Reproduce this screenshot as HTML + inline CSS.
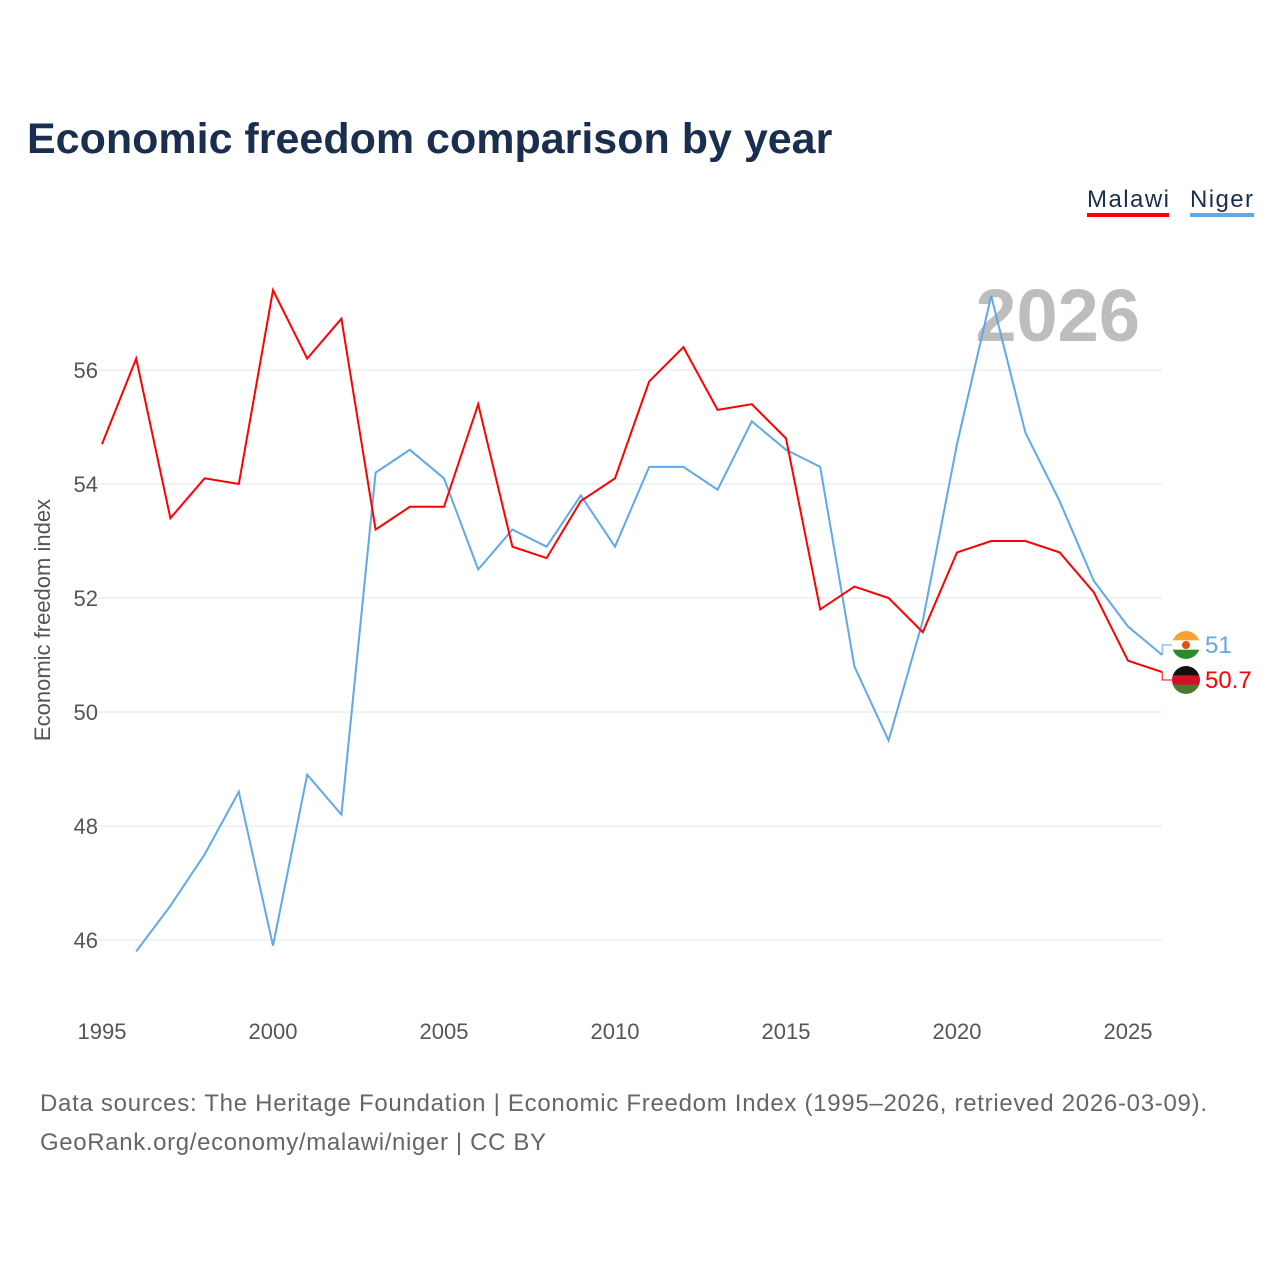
<!DOCTYPE html>
<html><head><meta charset="utf-8"><style>
body{margin:0;background:#fff;font-family:"Liberation Sans",sans-serif;}
svg text{font-family:"Liberation Sans",sans-serif;}
</style></head><body>
<svg width="1280" height="1280" viewBox="0 0 1280 1280">
<text x="27" y="153" font-size="43" font-weight="bold" fill="#1a2e4f">Economic freedom comparison by year</text>
<g><text x="1087" y="207" font-size="24" fill="#1a2e4f" textLength="82">Malawi</text><rect x="1087" y="213" width="82" height="4" fill="#ff0000"/></g>
<g><text x="1190" y="207" font-size="24" fill="#1a2e4f" textLength="63">Niger</text><rect x="1190" y="213" width="64" height="4" fill="#5ea9ea"/></g>
<text x="1140" y="341" font-size="74" font-weight="bold" fill="#bdbdbd" text-anchor="end">2026</text>
<g id="grid"></g><g id="yt"></g><g id="xt"></g><g id="lines"></g>
<text transform="translate(50,620) rotate(-90)" font-size="22" fill="#555" text-anchor="middle">Economic freedom index</text>
<text x="40" y="1111" font-size="24" fill="#666" textLength="1167">Data sources: The Heritage Foundation | Economic Freedom Index (1995–2026, retrieved 2026-03-09).</text>
<text x="40" y="1150" font-size="24" fill="#666" textLength="506">GeoRank.org/economy/malawi/niger | CC BY</text>
</svg>
<script>
const years=[];for(let y=1995;y<=2026;y++)years.push(y);
const malawi=[54.7,56.2,53.4,54.1,54.0,57.4,56.2,56.9,53.2,53.6,53.6,55.4,52.9,52.7,53.7,54.1,55.8,56.4,55.3,55.4,54.8,51.8,52.2,52.0,51.4,52.8,53.0,53.0,52.8,52.1,50.9,50.7];
const niger=[null,45.8,46.6,47.5,48.6,45.9,48.9,48.2,54.2,54.6,54.1,52.5,53.2,52.9,53.8,52.9,54.3,54.3,53.9,55.1,54.6,54.3,50.8,49.5,51.6,54.7,57.3,54.9,53.7,52.3,51.5,51.0];
const yTicks=[46,48,50,52,54,56];
const xTicks=[1995,2000,2005,2010,2015,2020,2025];
const NS='http://www.w3.org/2000/svg';
const X=y=>102+(y-1995)*34.2, Y=v=>940-(v-46)*57;
function mk(t,a,p){const e=document.createElementNS(NS,t);for(const k in a)e.setAttribute(k,a[k]);p.appendChild(e);return e;}
const g=document.getElementById('grid'),yt=document.getElementById('yt'),xt=document.getElementById('xt'),L=document.getElementById('lines');
yTicks.forEach(v=>{const l=mk('line',{x1:85,x2:1162,y1:Y(v),y2:Y(v),stroke:'#e6e6e6','stroke-width':1},g);


const t=mk('text',{x:98,y:Y(v)+8,'font-size':22,fill:'#555','text-anchor':'end'},yt);t.textContent=v;

});
xTicks.forEach(v=>{const t=mk('text',{x:X(v),y:1039,'font-size':22,fill:'#555','text-anchor':'middle'},xt);t.textContent=v;

});
function line(d,c,n){let s='';d.forEach((v,i)=>{if(v==null)return;s+=(s?'L':'M')+X(years[i]).toFixed(1)+','+Y(v).toFixed(1);});
const p=mk('path',{d:s,fill:'none',stroke:c,'stroke-width':2},L);

}
line(niger,'#5ea9ea','line-niger');line(malawi,'#ff0000','line-malawi');
function endLabel(v,c,ly,flag,n){const x=X(2026),y=Y(v);
mk('path',{d:`M${x},${y} L${x},${ly} L${x+10},${ly}`,stroke:c,fill:'none','stroke-width':1},L);
const gg=mk('g',{},L);


const cx=1186,r=14;const cp='cp'+n;const d=mk('clipPath',{id:cp},gg);mk('circle',{cx,cy:ly,r},d);
const fg=mk('g',{'clip-path':`url(#${cp})`},gg);
flag.forEach((col,i)=>mk('rect',{x:cx-r,y:ly-r+i*2*r/3,width:2*r,height:2*r/3+0.5,fill:col},fg));
if(n=='end-niger')mk('circle',{cx,cy:ly,r:4,fill:'#e05206'},fg);
const t=mk('text',{x:1205,y:ly+8,'font-size':24,fill:c},gg);t.textContent=v;}
endLabel(niger[31],'#5ea9ea',645,['#f7a233','#ffffff','#2d8a2a'],'end-niger');
endLabel(malawi[31],'#ff0000',680,['#111111','#ce1126','#4a7a30'],'end-malawi');
</script>
</body></html>
